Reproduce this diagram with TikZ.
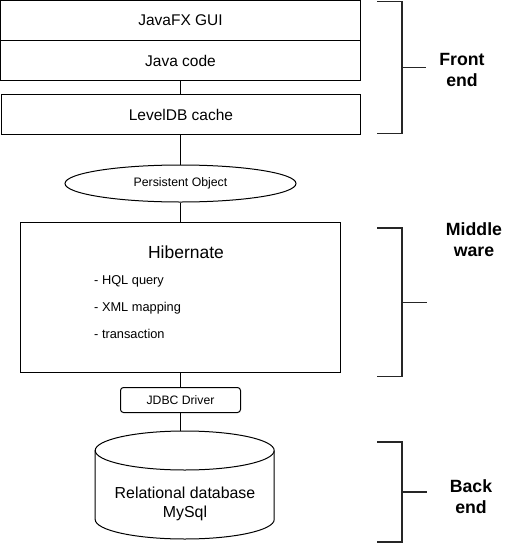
\documentclass[tikz,border=0pt]{standalone}
\usepackage{fontspec}
\setmainfont{Liberation Sans}
\usetikzlibrary{shapes.geometric}
\begin{document}
\begin{tikzpicture}[x=1pt,y=-1pt,
  box/.style={draw=black,line width=1pt,rectangle,inner sep=0pt,font=\fontsize{15.5}{18}\selectfont},
  conn/.style={draw=black,line width=1pt},
  brace/.style={draw=black!85,line width=1.7pt},
  side/.style={align=center,font=\fontsize{17.7}{21}\selectfont\bfseries},
  item/.style={anchor=west,inner sep=0pt,font=\fontsize{12.8}{15}\selectfont}]
\useasboundingbox (0,0) rectangle (521,544);
% front end
\node[box,minimum width=360pt,minimum height=40pt] (gui) at (180.5,20.5) {JavaFX GUI};
\node[box,minimum width=360pt,minimum height=40pt] (code) at (180.5,60.5) {Java code};
\node[box,minimum width=359.5pt,minimum height=40pt] (cache) at (181,114.5) {LevelDB cache};
% persistent object
\node[draw=black,line width=1pt,ellipse,inner sep=0pt,minimum width=231pt,minimum height=37pt,
  font=\fontsize{12.3}{15}\selectfont] (po) at (180.5,183.5) {Persistent Object};
% hibernate
\node[box,minimum width=320pt,minimum height=150pt] (hib) at (180.5,297.5) {};
\node[inner sep=0pt,font=\fontsize{17.5}{21}\selectfont] (hibt) at (186,252) {Hibernate};
\node[item] (i1) at (94,281) {- HQL query};
\node[item] (i2) at (94,308) {- XML mapping};
\node[item] (i3) at (94,334) {- transaction};
% jdbc
\node[draw=black,line width=1pt,rectangle,rounded corners=3pt,inner sep=0pt,minimum width=120pt,minimum height=25pt,
  font=\fontsize{12.2}{15}\selectfont] (jdbc) at (180.5,400) {JDBC Driver};
% database cylinder
\draw[line width=1pt] (95.2,450.5) -- (95.2,519.5) arc[start angle=180,end angle=0,x radius=89.5,y radius=19.5]
  -- (274.2,450.5);
\draw[line width=1pt] (184.7,450.5) ellipse[x radius=89.5,y radius=19.5];
\coordinate (dbtop) at (180.5,431.2);
\node[align=center,inner sep=0pt,font=\fontsize{15.9}{19}\selectfont] (db) at (185,503.5) {Relational database\\MySql};
% connectors
\draw[conn] (code.south) -- (cache.north -| code.south);
\draw[conn] (cache.south -| po.north) -- (po.north);
\draw[conn] (po.south) -- (hib.north);
\draw[conn] (hib.south) -- (jdbc.north);
\draw[conn] (jdbc.south) -- (dbtop);
% brackets
\draw[brace] (377,1.5) -- (402,1.5) -- (402,133.5) -- (377,133.5);
\draw[brace] (402,67.5) -- (426,67.5);
\draw[brace] (377,228) -- (402,228) -- (402,376.5) -- (377,376.5);
\draw[brace] (402,302.5) -- (427,302.5);
\draw[brace] (377,442) -- (402,442) -- (402,542) -- (377,542);
\draw[brace] (402,492) -- (427,492);
\node[side] (fe) at (462,70) {Front\\end};
\node[side] (mw) at (474,240) {Middle\\ware};
\node[side] (be) at (471,497) {Back\\end};
\end{tikzpicture}
\end{document}
